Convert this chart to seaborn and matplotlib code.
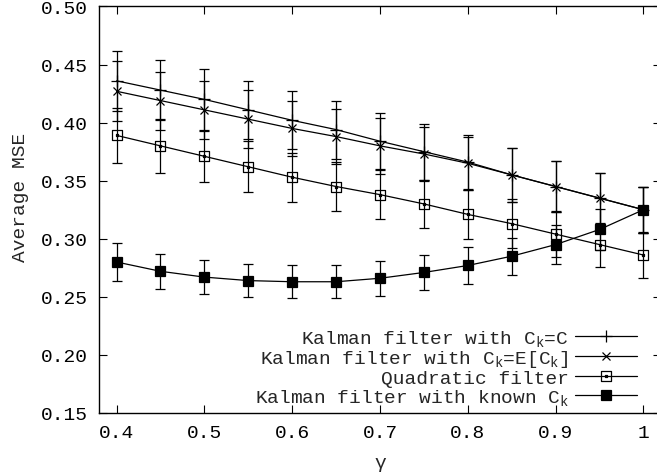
import pandas as pd
import seaborn as sns
import matplotlib.pyplot as plt
from matplotlib.path import Path

# datos
gamma = [0.40, 0.45, 0.50, 0.55, 0.60, 0.65, 0.70, 0.75, 0.80, 0.85, 0.90, 0.95, 1.00]

mse_const = [0.436, 0.428, 0.420, 0.411, 0.402, 0.394, 0.384, 0.375, 0.366, 0.355, 0.345, 0.335, 0.325]
err_const = [0.026, 0.026, 0.026, 0.025, 0.025, 0.025, 0.024, 0.024, 0.023, 0.023, 0.022, 0.022, 0.020]

mse_mean = [0.427, 0.419, 0.411, 0.403, 0.395, 0.388, 0.380, 0.373, 0.365, 0.355, 0.345, 0.335, 0.325]
err_mean = [0.026, 0.025, 0.025, 0.025, 0.024, 0.024, 0.024, 0.023, 0.023, 0.023, 0.022, 0.022, 0.020]

mse_quad = [0.389, 0.380, 0.371, 0.362, 0.353, 0.345, 0.338, 0.330, 0.321, 0.313, 0.304, 0.295, 0.286]
err_quad = [0.024, 0.023, 0.022, 0.022, 0.021, 0.021, 0.021, 0.021, 0.021, 0.021, 0.020, 0.019, 0.020]

mse_known = [0.280, 0.272, 0.267, 0.264, 0.263, 0.263, 0.266, 0.271, 0.277, 0.285, 0.295, 0.308, 0.325]
err_known = [0.016, 0.015, 0.0145, 0.014, 0.014, 0.014, 0.015, 0.015, 0.016, 0.016, 0.017, 0.018, 0.020]

labels = ["Kalman filter with C$_k$=C",
          "Kalman filter with C$_k$=E[C$_k$]",
          "Quadratic filter",
          "Kalman filter with known C$_k$"]

sns.set_theme(style="ticks")
plt.rcParams["font.family"] = ["Liberation Mono", "DejaVu Sans"]
plt.rcParams["mathtext.default"] = "regular"
plt.rcParams["font.size"] = 14

# cuadrado abierto con punto central (estilo gnuplot)
sq_dot = Path.make_compound_path(
    Path([(-1, -1), (1, -1), (1, 1), (-1, 1), (-1, -1)], closed=True),
    Path([(-0.12, -0.12), (0.12, -0.12), (0.12, 0.12), (-0.12, 0.12), (-0.12, -0.12)], closed=True))

series = [
    (mse_const, err_const, "+", 8, "black"),
    (mse_mean, err_mean, "x", 6, "black"),
    (mse_quad, err_quad, sq_dot, 6.5, "none"),
    (mse_known, err_known, "s", 6.5, "black"),
]

fig = plt.figure(figsize=(6.57, 4.77), dpi=100)
ax = fig.add_axes([0.1507, 0.1321, 0.8554, 0.8522])

for (vals, err, mk, ms, fc), lab in zip(series, labels):
    df = pd.DataFrame({"gamma": gamma, "mse": vals})
    ax.errorbar(gamma, vals, yerr=err, fmt="none", ecolor="black",
                elinewidth=0.9, capsize=3.5, capthick=0.9)
    sns.lineplot(data=df, x="gamma", y="mse", ax=ax, color="black", lw=0.9,
                 marker=mk, markersize=ms, markerfacecolor=fc,
                 markeredgecolor="black", markeredgewidth=0.9, label=lab)

ax.set_xlim(0.38, 1.02)
ax.set_ylim(0.15, 0.50)
ax.set_xticks([0.4, 0.5, 0.6, 0.7, 0.8, 0.9, 1.0])
ax.set_xticklabels(["0.4", "0.5", "0.6", "0.7", "0.8", "0.9", "1"])
ax.set_yticks([0.15, 0.20, 0.25, 0.30, 0.35, 0.40, 0.45, 0.50])
ax.set_yticklabels(["%.2f" % v for v in [0.15, 0.20, 0.25, 0.30, 0.35, 0.40, 0.45, 0.50]])
ax.tick_params(direction="in", length=6, width=0.8, top=True, right=True,
               labelsize=14, colors="black", pad=8)
for sp in ax.spines.values():
    sp.set_linewidth(1.0)
    sp.set_color("black")

ax.set_xlabel("γ", fontsize=14)
ax.set_ylabel("Average MSE", fontsize=14)
ax.xaxis.set_label_coords(0.5, -0.100)
ax.yaxis.set_label_coords(-0.125, 0.534)

leg = ax.legend(loc="lower right", bbox_to_anchor=(0.957, 0.015), frameon=False,
                markerfirst=False, handlelength=3.2, handletextpad=0.3,
                labelspacing=0.0, borderpad=0, borderaxespad=0, fontsize=14)

fig.savefig("out.png", dpi=100)
